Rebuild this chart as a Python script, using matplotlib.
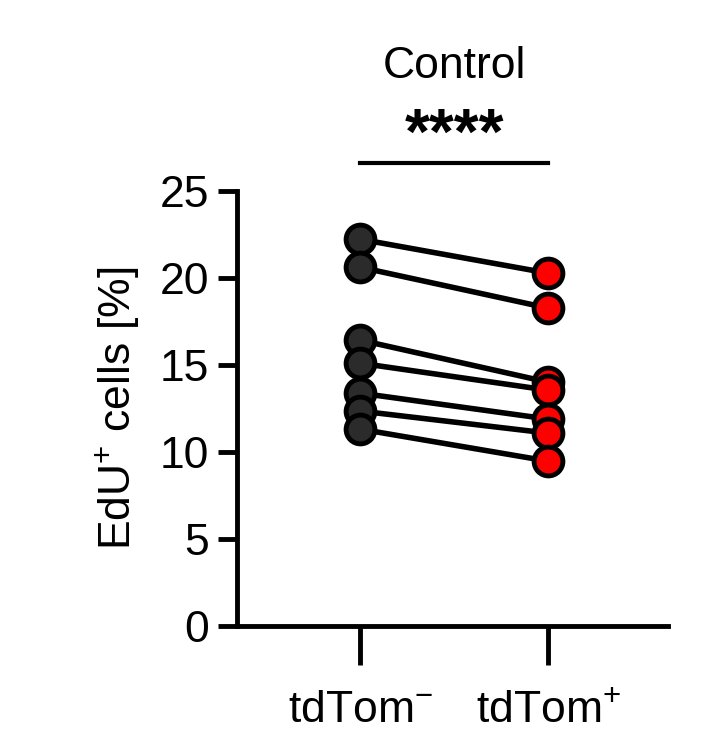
import matplotlib
matplotlib.use("Agg")
import matplotlib.pyplot as plt

groups = ["tdTom$^{-}$", "tdTom$^{+}$"]
neg_vals = [22.24, 20.63, 16.44, 15.11, 13.39, 12.36, 11.32]
pos_vals = [20.29, 18.28, 14.02, 13.56, 11.9, 11.09, 9.48]

plt.rcParams['font.family'] = ['Liberation Sans', 'DejaVu Sans']
plt.rcParams['mathtext.fontset'] = 'custom'
plt.rcParams['mathtext.rm'] = 'Liberation Sans'
fig = plt.figure(figsize=(7.04, 7.47), dpi=100)
ax = fig.add_axes([0.337, 0.162, 0.612, 0.582])

for a, b in zip(neg_vals, pos_vals):
    ax.plot([0, 1], [a, b], color='black', lw=4, zorder=1)
ax.scatter([0]*len(neg_vals), neg_vals, s=430, color='#2b2b2b', edgecolor='black', linewidth=3.5, zorder=2)
ax.scatter([1]*len(pos_vals), pos_vals, s=430, color='#ff0000', edgecolor='black', linewidth=3.5, zorder=3)

ax.set_xlim(-0.654, 1.638)
ax.set_ylim(0, 25)
ax.set_yticks([0, 5, 10, 15, 20, 25])
ax.set_xticks([0, 1])
ax.set_xticklabels(groups)
for s in ['top', 'right']:
    ax.spines[s].set_visible(False)
for s in ['left', 'bottom']:
    ax.spines[s].set_linewidth(3.5)
ax.tick_params(axis='y', width=3.5, length=14, labelsize=32, pad=6)
ax.tick_params(axis='x', width=3.5, length=28, labelsize=32, pad=18)
ax.set_ylabel("EdU$^{+}$ cells [%]", fontsize=32, labelpad=14)

ax.plot([0, 1], [26.6, 26.6], color='black', lw=3, clip_on=False)
ax.text(0.5, 26.4, "****", ha='center', va='bottom', fontsize=46, fontweight='bold')
ax.text(0.5, 31.0, "Control", ha='center', va='bottom', fontsize=32)

fig.savefig("out.png", dpi=100)
